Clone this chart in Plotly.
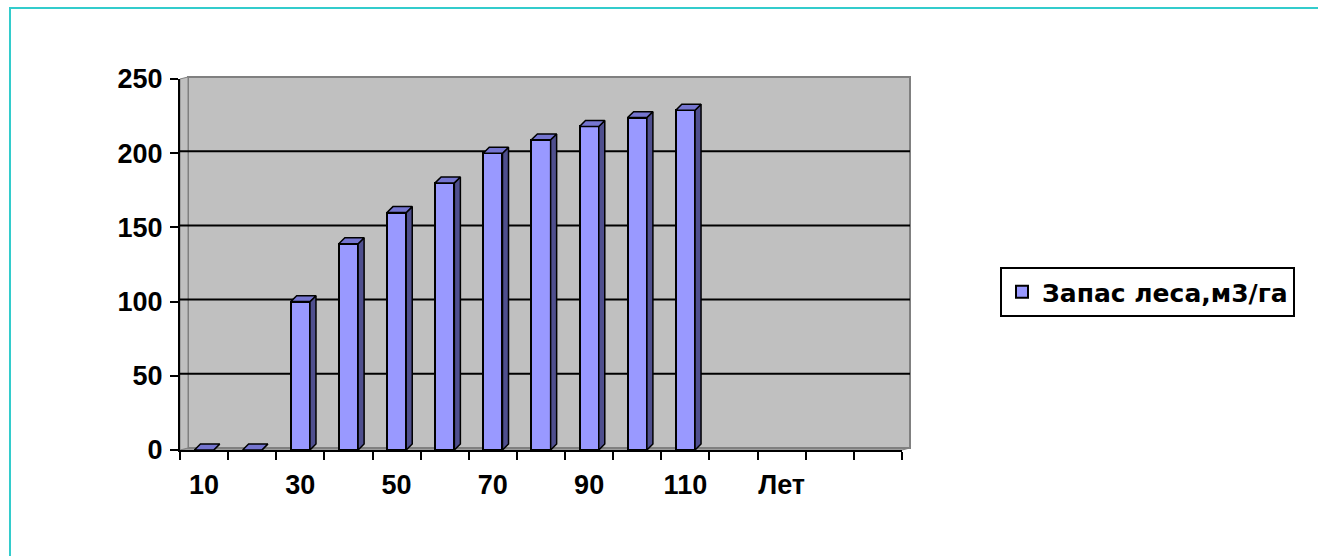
import plotly.graph_objects as go

# Age classes (years) along the x axis; only every other one is labelled
categories = ["10", "20", "30", "40", "50", "60", "70", "80", "90", "100",
              "110", "120", "Лет", "", ""]
# Growing stock, m3 per hectare, for ages 10..110
stock = [0, 0, 100, 139, 160, 180, 200, 209, 218, 224, 229]
y_ticks = [0, 50, 100, 150, 200, 250]
series_name = "Запас леса,м3/га"

FRONT = "#9999FF"
SIDE = "#4F4F8E"
TOP = "#7575D0"
WALL = "#C0C0C0"

# pseudo-3D geometry (data units)
half_w = 0.2      # half width of the column front face
depth_x = 0.125   # horizontal depth of the column
depth_y = 4.0     # vertical depth of the column
W, H = 1318, 556
ML, MR, MT, MB = 180, 416, 79, 106
PW, PH = W - ML - MR, H - MT - MB
wall_dx = 8 / PW  # back wall offset in paper units
wall_dy = 2 / PH

xs = list(range(len(stock)))

side_x, side_y, top_x, top_y = [], [], [], []
for c, v in zip(xs, stock):
    side_x += [c + half_w, c + half_w + depth_x, c + half_w + depth_x, c + half_w, c + half_w, None]
    side_y += [0, depth_y, v + depth_y, v, 0, None]
    top_x += [c - half_w, c - half_w + depth_x, c + half_w + depth_x, c + half_w, c - half_w, None]
    top_y += [v, v + depth_y, v + depth_y, v, v, None]

fig = go.Figure()
fig.add_trace(go.Bar(
    x=xs, y=stock, width=2 * half_w, name=series_name,
    marker=dict(color=FRONT, line=dict(color="black", width=2)),
    showlegend=True,
))
fig.add_trace(go.Scatter(
    x=side_x, y=side_y, mode="lines", fill="toself", fillcolor=SIDE,
    line=dict(color="black", width=1.5), showlegend=False, hoverinfo="skip",
))
fig.add_trace(go.Scatter(
    x=top_x, y=top_y, mode="lines", fill="toself", fillcolor=TOP,
    line=dict(color="black", width=1.5), showlegend=False, hoverinfo="skip",
))

shapes = []
# floor strip between the front axis and the back wall
shapes.append(dict(type="path", xref="paper", yref="paper", layer="below",
                   path=f"M 0 0 L 1 0 L {1 + wall_dx} {wall_dy} L {wall_dx} {wall_dy} Z",
                   fillcolor=WALL, line=dict(color="#808080", width=1)))
# back wall
shapes.append(dict(type="rect", xref="paper", yref="paper", layer="below",
                   x0=wall_dx, x1=1 + wall_dx, y0=wall_dy, y1=1 + wall_dy,
                   fillcolor=WALL, line=dict(color="#808080", width=2)))
# side wall seen edge-on
shapes.append(dict(type="path", xref="paper", yref="paper", layer="below",
                   path=f"M 0 0 L {wall_dx} {wall_dy} L {wall_dx} {1 + wall_dy} L 0 1 Z",
                   fillcolor=WALL, line=dict(color="#808080", width=1)))
# gridlines on the back wall
for t in y_ticks[1:-1]:
    yp = t / y_ticks[-1] + wall_dy
    shapes.append(dict(type="line", xref="paper", yref="paper", layer="below",
                       x0=0, x1=1 + wall_dx, y0=yp, y1=yp,
                       line=dict(color="black", width=2)))
# outer frame
shapes.append(dict(type="rect", xref="paper", yref="paper", layer="above",
                   x0=(10 - ML) / PW, x1=(W + 20 - ML) / PW,
                   y0=(MB - 40) / PH - 1, y1=(H - MB - 8) / PH + 0,
                   line=dict(color="#33CCCC", width=2), fillcolor="rgba(0,0,0,0)"))

fig.update_layout(
    width=W, height=H,
    margin=dict(l=ML, r=MR, t=MT, b=MB),
    paper_bgcolor="white", plot_bgcolor="rgba(0,0,0,0)",
    font=dict(family="Liberation Sans, Arial, sans-serif", size=27, color="black", weight="bold"),
    shapes=shapes,
    bargap=0,
    showlegend=True,
    legend=dict(x=(1000 - ML) / PW, y=(H - MB - 267) / PH, xanchor="left", yanchor="top",
                bordercolor="black", borderwidth=2, bgcolor="white",
                font=dict(family="DejaVu Sans", size=25, weight="bold")),
    xaxis=dict(range=[-0.5, len(categories) - 0.5], showgrid=False, zeroline=False,
               showline=True, linecolor="black", linewidth=2,
               tickvals=list(range(len(categories)))[::2], ticktext=categories[::2],
               ticks="", ticklabelstandoff=10,
               minor=dict(tick0=-0.5, dtick=1, ticks="outside", ticklen=8,
                          tickwidth=2, tickcolor="black", showgrid=False)),
    yaxis=dict(range=[0, y_ticks[-1]], tickvals=y_ticks, showgrid=False, zeroline=False,
               showline=True, linecolor="black", linewidth=2,
               ticks="outside", ticklen=8, tickwidth=2, tickcolor="black",
               ticklabelstandoff=2),
)

fig.write_html("out.html")
